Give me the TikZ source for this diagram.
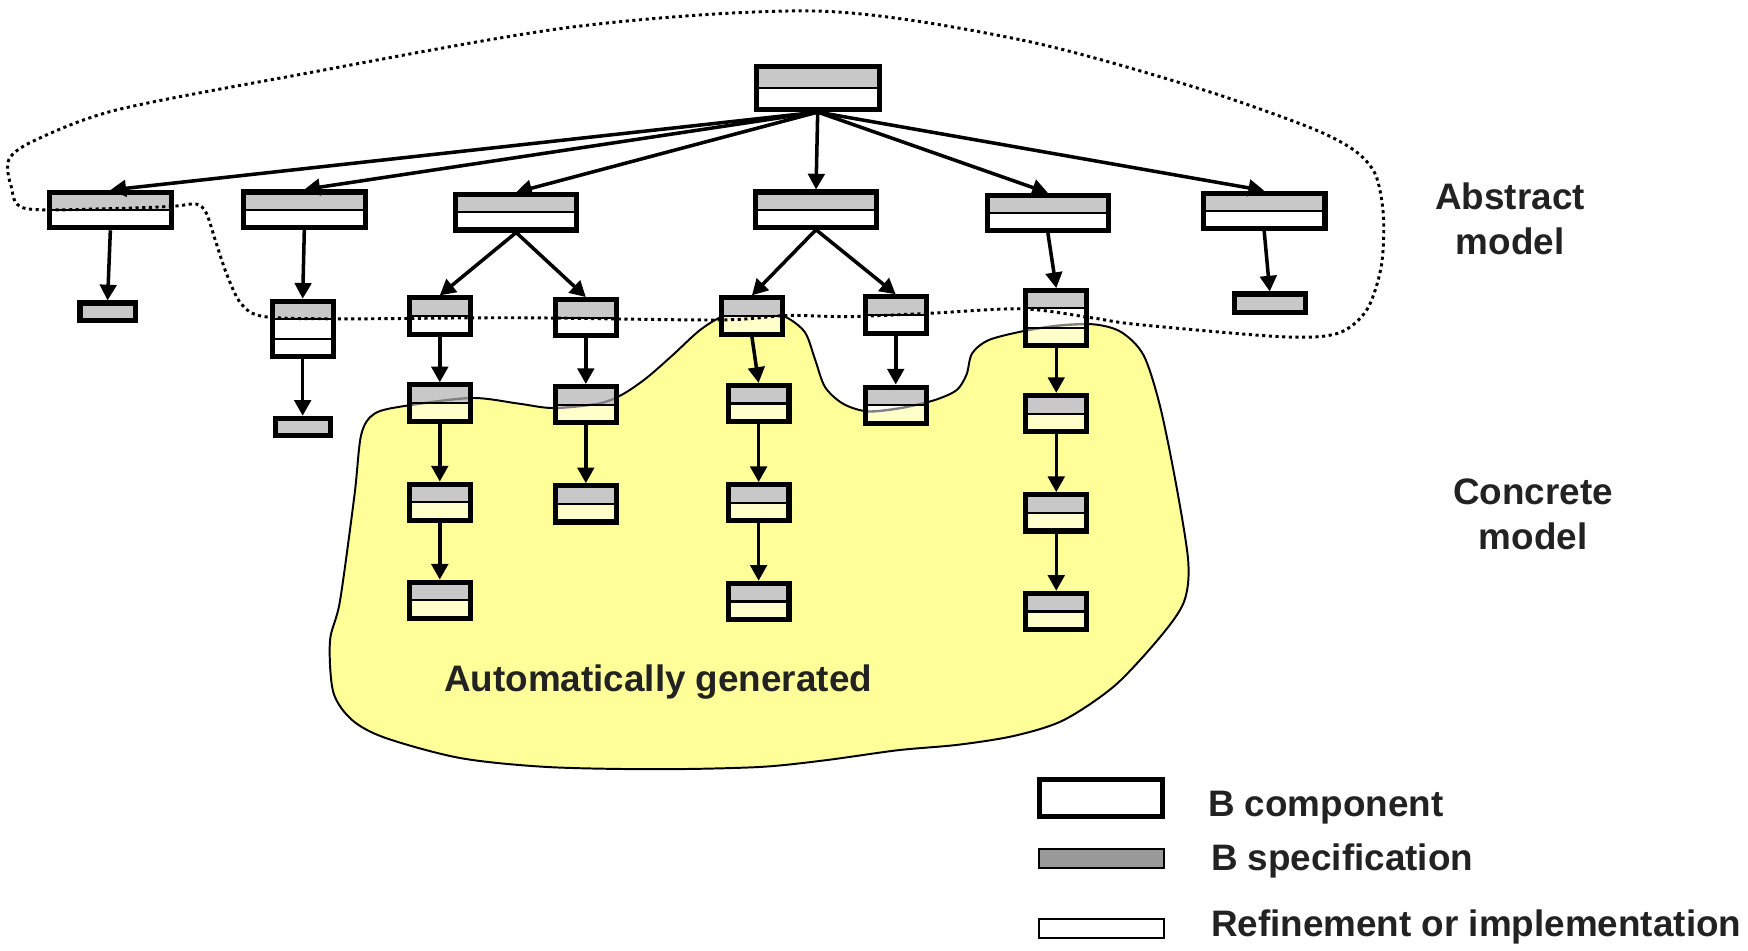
\documentclass[tikz,border=0pt]{standalone}
\usepackage{fontspec}
\setmainfont{Liberation Sans}
\usetikzlibrary{arrows.meta,calc}

\definecolor{specgray}{HTML}{C8C8C8}
\definecolor{legendgray}{HTML}{999999}
\definecolor{blobyellow}{HTML}{FFFF99}
\definecolor{paleyellow}{HTML}{FFFFCC}
\definecolor{labelgray}{HTML}{222222}

\pgfdeclarelayer{background}
\pgfsetlayers{background,main}

% outline of the generated part
\newcommand{\genblob}{plot[smooth cycle, tension=0.5] coordinates {
    (324,390) (336,371) (364,364) (423,357) (465,362) (496,366) (537,362)
    (558,354) (580,339) (604,318) (628,296) (650,283) (678,278) (704,284)
    (722,298) (731,322) (740,347) (756,362) (778,369) (808,366) (838,359)
    (858,350) (867,336) (872,317) (887,305) (918,297) (950,292) (982,291)
    (1006,298) (1026,319) (1041,366) (1056,440) (1066,505) (1062,540)
    (1041,571) (1000,615) (954,646) (910,660) (860,668) (805,673) (740,682)
    (681,688) (590,690) (491,688) (413,680) (346,662) (316,646) (299,621)
    (296,575) (305,539) (318,444)}}

% outline of the abstract part
\newcommand{\absline}{plot[smooth cycle, tension=0.5] coordinates {
    (736,10) (917,36) (1071,78) (1174,114) (1215,135) (1234,157) (1241,194)
    (1239,239) (1226,278) (1200,299) (1149,302) (1020,291) (979,285)
    (917,277) (834,281) (762,284) (706,283) (644,287) (463,285) (309,286)
    (237,284) (216,272) (203,245) (193,215) (185,191) (176,183) (155,185)
    (103,187) (23,187) (10,167) (8,143) (31,126) (103,99) (257,69) (515,24)}}

\tikzset{
    box/.style={draw, line width=1.3pt, inner sep=0pt},
    wide/.style={box, minimum width=1.09cm, minimum height=0.315cm},
    narrow/.style={box, minimum width=0.545cm, minimum height=0.325cm},
    tall/.style={box, minimum width=0.545cm, minimum height=0.495cm},
    spec/.style={box, fill=specgray, minimum width=0.495cm, minimum height=0.155cm},
    divider/.style={line width=0.55pt},
    link/.style={-{Triangle[length=4pt,width=4.2pt]}, line width=0.9pt},
    lbl/.style={font=\fontsize{9.4}{11.5}\selectfont\bfseries, text=labelgray, inner sep=0pt}
}

\begin{document}
\begin{tikzpicture}[x=0.01cm, y=-0.01cm]
    \useasboundingbox (0,0) rectangle (1568,853);

    % abstract components
    \node[wide, minimum width=1.1cm, minimum height=0.385cm] (T) at (733.5,79) {};
    \node[wide] (A1) at (99,188.5) {};
    \node[wide] (A2) at (273,188) {};
    \node[wide] (A3) at (463,190.5) {};
    \node[wide] (A4) at (732,188) {};
    \node[wide] (A5) at (940,191) {};
    \node[wide] (A6) at (1134,189) {};

    % specifications only
    \node[spec] (S1) at (96.5,279.5) {};
    \node[spec] (S2) at (271.5,383) {};
    \node[spec, minimum width=0.635cm, minimum height=0.165cm] (S3) at (1139,272) {};

    % refinement chains
    \node[tall] (B1) at (271.5,295) {};
    \foreach \y[count=\i] in {283.5, 361.5, 450.5, 538.5}
        \node[narrow] (c1r\i) at (394.5,\y) {};
    \foreach \y[count=\i] in {285, 363, 452}
        \node[narrow] (c2r\i) at (525.5,\y) {};
    \node[narrow] (c3r1) at (674.5,283.5) {};
    \foreach \y[count=\i from 2] in {362, 451, 539.5}
        \node[narrow] (c3r\i) at (680.5,\y) {};
    \node[narrow] (c4r1) at (803.5,282.5) {};
    \node[narrow] (c4r2) at (803.5,363.5) {};
    \node[tall] (c5r1) at (947.5,285.5) {};
    \foreach \y[count=\i from 2] in {371, 460, 548.5}
        \node[narrow] (c5r\i) at (947.5,\y) {};

    \begin{pgfonlayer}{background}
        \fill[blobyellow] \genblob;
        \draw[line width=0.5pt] \genblob;
        \foreach \b in {T,A1,A2,A3,A4,A5,A6,B1,c1r1,c1r2,c1r3,c1r4,c2r1,c2r2,c2r3,
                        c3r1,c3r2,c3r3,c3r4,c4r1,c4r2,c5r1,c5r2,c5r3,c5r4}
            \fill[white] (\b.north west) rectangle (\b.south east);
        \begin{scope}
            \clip \genblob;
            \foreach \b in {B1,c1r1,c1r2,c1r3,c1r4,c2r1,c2r2,c2r3,
                            c3r1,c3r2,c3r3,c3r4,c4r1,c4r2,c5r1,c5r2,c5r3,c5r4}
                \fill[paleyellow] (\b.north west) rectangle (\b.south east);
        \end{scope}
        \foreach \b in {T,A1,A2,A3,A4,A5,A6,c1r1,c1r2,c1r3,c1r4,c2r1,c2r2,c2r3,
                        c3r1,c3r2,c3r3,c3r4,c4r1,c4r2,c5r2,c5r3,c5r4}
            \fill[specgray] (\b.north west) rectangle (\b.east);
        \foreach \b in {B1,c5r1}
            \fill[specgray] (\b.north west) rectangle ($(\b.north east)!1/3!(\b.south east)$);
        % blob edge seen through the boxes
        \foreach \b in {c1r2,c2r2,c4r2,c5r1} {
            \begin{scope}
                \clip (\b.north west) rectangle (\b.south east);
                \draw[gray, line width=0.6pt] \genblob;
            \end{scope}
        }
    \end{pgfonlayer}

    \foreach \b in {T,A1,A2,A3,A4,A5,A6,c1r1,c1r2,c1r3,c1r4,c2r1,c2r2,c2r3,
                    c3r1,c3r2,c3r3,c3r4,c4r1,c4r2,c5r2,c5r3,c5r4}
        \draw[divider] (\b.west) -- (\b.east);
    \foreach \b in {B1,c5r1} {
        \draw[divider] ($(\b.north west)!1/3!(\b.south west)$) -- ($(\b.north east)!1/3!(\b.south east)$);
        \draw[divider] ($(\b.north west)!2/3!(\b.south west)$) -- ($(\b.north east)!2/3!(\b.south east)$);
    }

    % arrows
    \foreach \n in {A1,A2,A3,A4,A5,A6}
        \draw[link] (T.south) -- (\n.north);
    \foreach \a/\b in {A1/S1, A2/B1, B1/S2, A6/S3, A3/c1r1, A3/c2r1, A4/c3r1, A4/c4r1,
                       A5/c5r1, c1r1/c1r2, c1r2/c1r3, c1r3/c1r4, c2r1/c2r2, c2r2/c2r3,
                       c3r1/c3r2, c3r2/c3r3, c3r3/c3r4, c4r1/c4r2, c5r1/c5r2,
                       c5r2/c5r3, c5r3/c5r4}
        \draw[link] (\a.south) -- (\b.north);

    \draw[line width=0.75pt, dash pattern=on 0.8pt off 0.9pt] \absline;

    % labels
    \node[lbl, align=center] (abstract) at (1354.6,196.4) {Abstract\\model};
    \node[lbl, align=center] (concrete) at (1375.3,461.2) {Concrete\\model};
    \node[lbl, anchor=base west] (auto) at (397.7,620.5) {Automatically generated};

    % legend
    \node[box, minimum width=1.1cm, minimum height=0.335cm] (legcomp) at (987.5,716) {};
    \node[box, line width=0.6pt, fill=legendgray, minimum width=1.12cm, minimum height=0.17cm] (legspec) at (988,770) {};
    \node[box, line width=0.6pt, fill=white, minimum width=1.12cm, minimum height=0.17cm] (legref) at (988,833) {};
    \node[lbl, anchor=base west] (txtcomp) at (1083,732.6) {B component};
    \node[lbl, anchor=base west] (txtspec) at (1085.6,780.4) {B specification};
    \node[lbl, anchor=base west] (txtref) at (1085.6,840.2) {Refinement or implementation};
\end{tikzpicture}
\end{document}
